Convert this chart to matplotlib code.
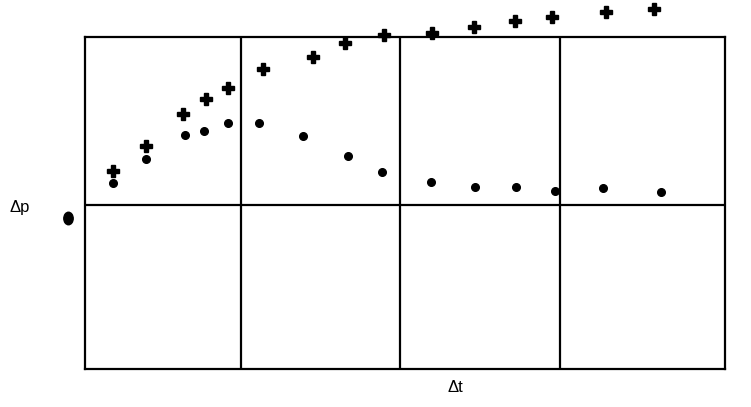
import numpy as np
import matplotlib
matplotlib.use("Agg")
import matplotlib.pyplot as plt
from matplotlib.path import Path
from matplotlib.transforms import Affine2D

# readings (arbitrary units, dt across, dp up; 0 = middle line)
cross_t = [0.177, 0.381, 0.614, 0.754, 0.896, 1.114, 1.427, 1.625, 1.869,
           2.167, 2.433, 2.688, 2.921, 3.256, 3.556]
cross_p = [0.204, 0.354, 0.540, 0.629, 0.695, 0.808, 0.879, 0.966, 1.012,
           1.026, 1.061, 1.097, 1.117, 1.150, 1.164]

dot_t = [0.177, 0.381, 0.625, 0.746, 0.892, 1.089, 1.364, 1.642, 1.858,
         2.161, 2.438, 2.694, 2.938, 3.239, 3.598]
dot_p = [0.133, 0.274, 0.417, 0.442, 0.490, 0.490, 0.411, 0.292, 0.195,
         0.135, 0.109, 0.109, 0.083, 0.099, 0.079]

stray_t = [-0.104]
stray_p = [-0.075]

grid_t = [0.975, 1.969, 2.969]
grid_p = [0.0]


def main():
    plt.rcParams['font.family'] = ['Liberation Sans', 'DejaVu Sans']

    fig = plt.figure(figsize=(7.51, 4.07), dpi=100)
    ax = fig.add_axes([0.1132, 0.0934, 0.8522, 0.8157])

    ax.set_xlim(0, 4)
    ax.set_ylim(-164 / 168, 1)

    for s in ax.spines.values():
        s.set_linewidth(1.6)
        s.set_color('black')

    ax.set_xticks(grid_t)
    ax.set_yticks(grid_p)
    ax.tick_params(length=0, labelbottom=False, labelleft=False)
    ax.grid(True, color='black', linewidth=1.6)

    ax.plot(cross_t, cross_p, linestyle='none', marker='P', color='black',
            markersize=9, clip_on=False, zorder=3)
    ax.plot(dot_t, dot_p, linestyle='none', marker='o', color='black',
            markersize=5.5, clip_on=False, zorder=3)

    # the odd blob left of the frame, a bit taller than wide
    oval = Path.unit_circle().transformed(Affine2D().scale(0.75, 1.0))
    ax.plot(stray_t, stray_p, linestyle='none', marker=oval, color='black',
            markersize=9, clip_on=False, zorder=3)

    fig.text(20 / 751, 1 - 207 / 407, '\u0394p', fontsize=12,
             ha='center', va='center')
    fig.text(455 / 751, 1 - 387 / 407, '\u0394t', fontsize=12,
             ha='center', va='center')

    fig.savefig('out.png', dpi=100)


if __name__ == "__main__":
    main()
